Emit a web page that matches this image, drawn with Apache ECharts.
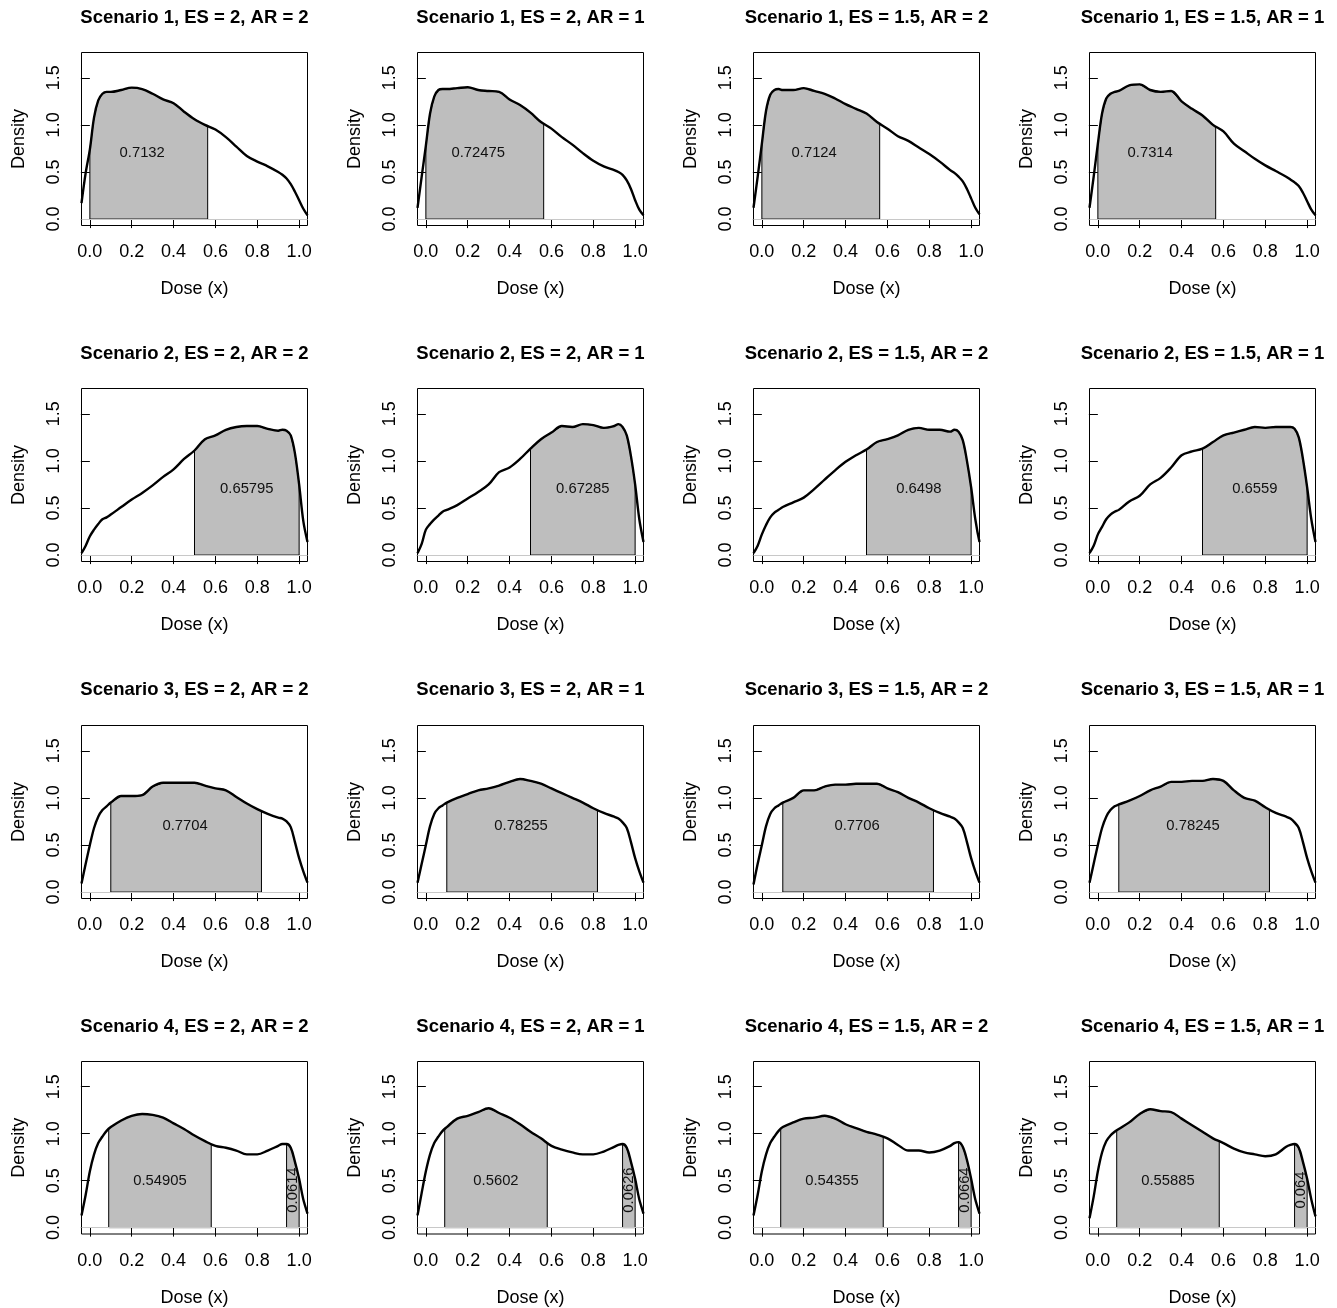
<!DOCTYPE html>
<html><head><meta charset="utf-8">
<script src="https://cdn.jsdelivr.net/npm/echarts@6/dist/echarts.min.js"></script>
<style>html,body{margin:0;padding:0;background:#fff}#c{width:1337px;height:1308px}</style>
</head><body><div id="c"></div>
<script>
// ---------- data ----------
const doseGrid = [-0.04, -0.02, 0, 0.02, 0.04, 0.06, 0.08, 0.1, 0.15, 0.2, 0.25, 0.3, 0.35, 0.4, 0.45, 0.5, 0.55, 0.6, 0.65, 0.7, 0.75, 0.8, 0.85, 0.9, 0.92, 0.94, 0.96, 0.98, 1.0, 1.02, 1.04];
const xTicks = [0, 0.2, 0.4, 0.6, 0.8, 1.0];
const yTicks = [0, 0.5, 1.0, 1.5];

const s1_es2_ar2   = [0.17, 0.49, 0.74, 1.08, 1.26, 1.33, 1.35, 1.35, 1.37, 1.395, 1.38, 1.33, 1.27, 1.23, 1.14, 1.06, 1.00, 0.95, 0.87, 0.77, 0.67, 0.61, 0.56, 0.50, 0.47, 0.43, 0.37, 0.29, 0.20, 0.11, 0.04];
const s1_es2_ar1   = [0.12, 0.45, 0.78, 1.12, 1.30, 1.37, 1.38, 1.38, 1.39, 1.40, 1.37, 1.36, 1.35, 1.27, 1.21, 1.13, 1.03, 0.96, 0.87, 0.79, 0.70, 0.62, 0.56, 0.52, 0.50, 0.47, 0.41, 0.32, 0.20, 0.10, 0.04];
const s1_es15_ar2  = [0.12, 0.45, 0.80, 1.15, 1.32, 1.37, 1.38, 1.37, 1.37, 1.39, 1.36, 1.33, 1.28, 1.22, 1.17, 1.12, 1.03, 0.96, 0.88, 0.83, 0.76, 0.69, 0.61, 0.52, 0.49, 0.45, 0.40, 0.32, 0.22, 0.12, 0.05];
const s1_es15_ar1  = [0.12, 0.45, 0.80, 1.12, 1.28, 1.33, 1.35, 1.36, 1.42, 1.43, 1.37, 1.35, 1.36, 1.25, 1.17, 1.10, 1.00, 0.93, 0.80, 0.72, 0.64, 0.57, 0.51, 0.45, 0.42, 0.39, 0.35, 0.28, 0.19, 0.10, 0.04];
const s2_es2_ar2   = [0.02, 0.10, 0.20, 0.27, 0.33, 0.38, 0.40, 0.43, 0.51, 0.59, 0.66, 0.74, 0.83, 0.91, 1.02, 1.11, 1.23, 1.27, 1.33, 1.36, 1.37, 1.37, 1.34, 1.32, 1.33, 1.32, 1.27, 1.08, 0.75, 0.36, 0.14];
const s2_es2_ar1   = [0.02, 0.12, 0.27, 0.33, 0.38, 0.42, 0.46, 0.48, 0.53, 0.60, 0.67, 0.75, 0.88, 0.93, 1.02, 1.13, 1.23, 1.30, 1.37, 1.36, 1.39, 1.38, 1.35, 1.37, 1.39, 1.36, 1.27, 1.05, 0.75, 0.38, 0.14];
const s2_es15_ar2  = [0.02, 0.10, 0.22, 0.32, 0.40, 0.45, 0.48, 0.51, 0.56, 0.61, 0.70, 0.80, 0.90, 0.99, 1.06, 1.12, 1.20, 1.23, 1.27, 1.33, 1.35, 1.33, 1.33, 1.31, 1.33, 1.31, 1.22, 1.00, 0.72, 0.38, 0.14];
const s2_es15_ar1  = [0.02, 0.10, 0.22, 0.30, 0.38, 0.43, 0.46, 0.48, 0.57, 0.63, 0.75, 0.82, 0.93, 1.06, 1.10, 1.13, 1.20, 1.27, 1.30, 1.33, 1.36, 1.35, 1.36, 1.36, 1.36, 1.34, 1.25, 1.02, 0.72, 0.38, 0.14];
const s3_es2_ar2   = [0.09, 0.30, 0.50, 0.68, 0.80, 0.87, 0.91, 0.95, 1.02, 1.02, 1.03, 1.12, 1.16, 1.16, 1.16, 1.16, 1.13, 1.10, 1.08, 1.01, 0.94, 0.88, 0.83, 0.79, 0.78, 0.75, 0.69, 0.53, 0.36, 0.22, 0.10];
const s3_es2_ar1   = [0.10, 0.30, 0.50, 0.70, 0.83, 0.89, 0.92, 0.95, 1.00, 1.04, 1.08, 1.10, 1.13, 1.17, 1.20, 1.18, 1.15, 1.10, 1.05, 1.00, 0.95, 0.89, 0.84, 0.80, 0.78, 0.74, 0.68, 0.53, 0.36, 0.22, 0.10];
const s3_es15_ar2  = [0.08, 0.30, 0.50, 0.70, 0.83, 0.89, 0.92, 0.95, 1.00, 1.08, 1.08, 1.12, 1.14, 1.14, 1.15, 1.15, 1.15, 1.10, 1.06, 1.00, 0.95, 0.89, 0.84, 0.80, 0.78, 0.74, 0.68, 0.53, 0.36, 0.22, 0.10];
const s3_es15_ar1  = [0.10, 0.30, 0.50, 0.68, 0.80, 0.87, 0.91, 0.93, 0.97, 1.02, 1.08, 1.12, 1.17, 1.17, 1.18, 1.18, 1.20, 1.18, 1.08, 1.00, 0.97, 0.90, 0.84, 0.80, 0.78, 0.74, 0.68, 0.53, 0.36, 0.22, 0.10];
const s4_es2_ar2   = [0.13, 0.35, 0.60, 0.78, 0.90, 0.97, 1.03, 1.07, 1.14, 1.19, 1.21, 1.20, 1.17, 1.11, 1.05, 0.98, 0.92, 0.87, 0.85, 0.82, 0.78, 0.78, 0.82, 0.87, 0.89, 0.89, 0.85, 0.70, 0.52, 0.30, 0.15];
const s4_es2_ar1   = [0.13, 0.37, 0.60, 0.78, 0.90, 0.97, 1.03, 1.07, 1.16, 1.19, 1.23, 1.27, 1.22, 1.17, 1.10, 1.02, 0.95, 0.87, 0.83, 0.80, 0.78, 0.78, 0.81, 0.86, 0.88, 0.89, 0.85, 0.70, 0.52, 0.30, 0.15];
const s4_es15_ar2  = [0.13, 0.35, 0.60, 0.78, 0.90, 0.97, 1.03, 1.07, 1.12, 1.16, 1.17, 1.19, 1.16, 1.10, 1.06, 1.02, 0.99, 0.95, 0.88, 0.82, 0.82, 0.80, 0.82, 0.87, 0.90, 0.91, 0.86, 0.72, 0.52, 0.30, 0.15];
const s4_es15_ar1  = [0.10, 0.33, 0.60, 0.80, 0.92, 0.98, 1.02, 1.05, 1.12, 1.21, 1.26, 1.24, 1.23, 1.16, 1.09, 1.02, 0.95, 0.90, 0.84, 0.80, 0.78, 0.76, 0.78, 0.86, 0.88, 0.89, 0.85, 0.70, 0.52, 0.30, 0.12];

const panelTitles = [
  'Scenario 1, ES = 2, AR = 2', 'Scenario 1, ES = 2, AR = 1', 'Scenario 1, ES = 1.5, AR = 2', 'Scenario 1, ES = 1.5, AR = 1',
  'Scenario 2, ES = 2, AR = 2', 'Scenario 2, ES = 2, AR = 1', 'Scenario 2, ES = 1.5, AR = 2', 'Scenario 2, ES = 1.5, AR = 1',
  'Scenario 3, ES = 2, AR = 2', 'Scenario 3, ES = 2, AR = 1', 'Scenario 3, ES = 1.5, AR = 2', 'Scenario 3, ES = 1.5, AR = 1',
  'Scenario 4, ES = 2, AR = 2', 'Scenario 4, ES = 2, AR = 1', 'Scenario 4, ES = 1.5, AR = 2', 'Scenario 4, ES = 1.5, AR = 1'
];
const panelDensities = [
  s1_es2_ar2, s1_es2_ar1, s1_es15_ar2, s1_es15_ar1,
  s2_es2_ar2, s2_es2_ar1, s2_es15_ar2, s2_es15_ar1,
  s3_es2_ar2, s3_es2_ar1, s3_es15_ar2, s3_es15_ar1,
  s4_es2_ar2, s4_es2_ar1, s4_es15_ar2, s4_es15_ar1
];
// shaded dose intervals per scenario (row)
const shadedRanges = [
  [[0, 0.563]],
  [[0.5, 1.0]],
  [[0.1, 0.82]],
  [[0.09, 0.58], [0.94, 1.0]]
];
const areaLabels = [
  '0.7132', '0.72475', '0.7124', '0.7314',
  '0.65795', '0.67285', '0.6498', '0.6559',
  '0.7704', '0.78255', '0.7706', '0.78245',
  '0.54905', '0.5602', '0.54355', '0.55885'
];
const tailLabels = ['0.0614', '0.0626', '0.0664', '0.064'];
const areaLabelAt = [[0.25, 0.7], [0.75, 0.7], [0.455, 0.7], [0.335, 0.5]];
const tailLabelAt = [0.97, 0.4];

// ---------- layout ----------
const FONT = '"Liberation Sans", Arial, Helvetica, sans-serif';
const AXIS_FS = 18;
const X_MIN = -0.04, X_MAX = 1.04, Y_MIN = -0.068, Y_MAX = 1.768;
const COL_X0 = 81.5, COL_STEP = 336, ROW_Y0 = 52.7, ROW_STEP = 336.4;
const BOX_W = 226, BOX_H = 173;

function valueAt(ys, x) {
  for (let i = 0; i < doseGrid.length - 1; i++) {
    const x0 = doseGrid[i], x1 = doseGrid[i + 1];
    if (x >= x0 && x <= x1) {
      const t = (x - x0) / (x1 - x0);
      return ys[i] + t * (ys[i + 1] - ys[i]);
    }
  }
  return 0;
}
function regionPoints(ys, a, b) {
  const pts = [[a, 0], [a, valueAt(ys, a)]];
  doseGrid.forEach((x, i) => { if (x > a && x < b) pts.push([x, ys[i]]); });
  pts.push([b, valueAt(ys, b)], [b, 0]);
  return pts;
}

const grids = [], xAxes = [], yAxes = [], series = [], titles = [];
for (let i = 0; i < 16; i++) {
  const r = Math.floor(i / 4), c = i % 4;
  const left = COL_X0 + c * COL_STEP;
  const top = Math.round(ROW_Y0 + r * ROW_STEP) - 0.5;
  grids.push({ left: left, top: top, width: BOX_W, height: BOX_H, show: true,
    borderColor: '#000', borderWidth: 1, backgroundColor: 'transparent', containLabel: false });
  xAxes.push({
    gridIndex: i, type: 'value', min: X_MIN, max: X_MAX,
    axisLine: { show: false },
    axisTick: { show: true, inside: false, length: 9, customValues: xTicks, lineStyle: { color: '#000', width: 1 } },
    axisLabel: { show: true, customValues: xTicks, formatter: v => Number(v).toFixed(1), margin: 18, fontSize: AXIS_FS, fontFamily: FONT, color: '#000' },
    splitLine: { show: false },
    name: 'Dose (x)', nameLocation: 'middle', nameGap: 55,
    nameTextStyle: { fontSize: AXIS_FS, fontFamily: FONT, color: '#000' }
  });
  yAxes.push({
    gridIndex: i, type: 'value', min: Y_MIN, max: Y_MAX,
    axisLine: { show: false },
    axisTick: { show: true, inside: false, length: 9, customValues: yTicks, lineStyle: { color: '#000', width: 1 } },
    axisLabel: { show: true, customValues: yTicks, rotate: 90, formatter: v => Number(v).toFixed(1), margin: 18, fontSize: AXIS_FS, fontFamily: FONT, color: '#000' },
    splitLine: { show: false },
    name: 'Density', nameLocation: 'middle', nameGap: 53, nameRotate: 90,
    nameTextStyle: { fontSize: AXIS_FS, fontFamily: FONT, color: '#000' }
  });
  titles.push({
    text: panelTitles[i], left: left + BOX_W / 2, top: 17.5 + r * ROW_STEP,
    textAlign: 'center', textVerticalAlign: 'middle', padding: 0,
    textStyle: { fontSize: 18.5, fontWeight: 'bold', fontFamily: FONT, color: '#000' }
  });

  const ys = panelDensities[i];
  const curve = doseGrid.map((x, k) => [x, ys[k]]);
  const ranges = shadedRanges[r];

  // zero line (gray) — carried by an invisible copy of the curve
  series.push({
    type: 'line', xAxisIndex: i, yAxisIndex: i, data: curve, z: 1, silent: true,
    showSymbol: false, lineStyle: { opacity: 0 },
    markLine: { silent: true, symbol: 'none', animation: false, label: { show: false },
      lineStyle: { color: '#c8c8c8', width: 1, type: 'solid' }, data: [{ yAxis: 0 }] }
  });
  // shaded polygons
  series.push({
    type: 'custom', xAxisIndex: i, yAxisIndex: i, z: 2, silent: true,
    data: ranges.map(rg => [rg[0], rg[1]]),
    renderItem: (params, api) => {
      const rg = ranges[params.dataIndex];
      const pts = regionPoints(ys, rg[0], rg[1]).map(p => api.coord(p));
      return { type: 'polygon', shape: { points: pts }, style: { fill: '#bebebe', stroke: '#000', lineWidth: 1 } };
    }
  });
  // density curve
  series.push({
    type: 'line', xAxisIndex: i, yAxisIndex: i, data: curve, z: 4, silent: true,
    showSymbol: false, smooth: 0.35, lineStyle: { color: '#000', width: 2.4 }
  });
  // labels
  const labels = [{ pos: areaLabelAt[r], text: areaLabels[i], rot: 0 }];
  if (r === 3) labels.push({ pos: [tailLabelAt[0], tailLabelAt[1]], text: tailLabels[c], rot: 1 });
  series.push({
    type: 'custom', xAxisIndex: i, yAxisIndex: i, z: 5, silent: true,
    data: labels.map(l => [l.pos[0], l.pos[1]]),
    renderItem: (params, api) => {
      const l = labels[params.dataIndex];
      const p = api.coord(l.pos);
      return { type: 'text', x: p[0], y: p[1], rotation: l.rot ? Math.PI / 2 : 0,
        style: { text: l.text, fill: '#111', fontSize: 14.8, fontFamily: FONT,
          textAlign: 'center', textVerticalAlign: 'middle', align: 'center', verticalAlign: 'middle' } };
    }
  });
}

const chart = echarts.init(document.getElementById('c'), null, { renderer: 'canvas' });
chart.setOption({
  animation: false,
  backgroundColor: '#fff',
  title: titles,
  grid: grids,
  xAxis: xAxes,
  yAxis: yAxes,
  series: series
});
</script></body></html>
